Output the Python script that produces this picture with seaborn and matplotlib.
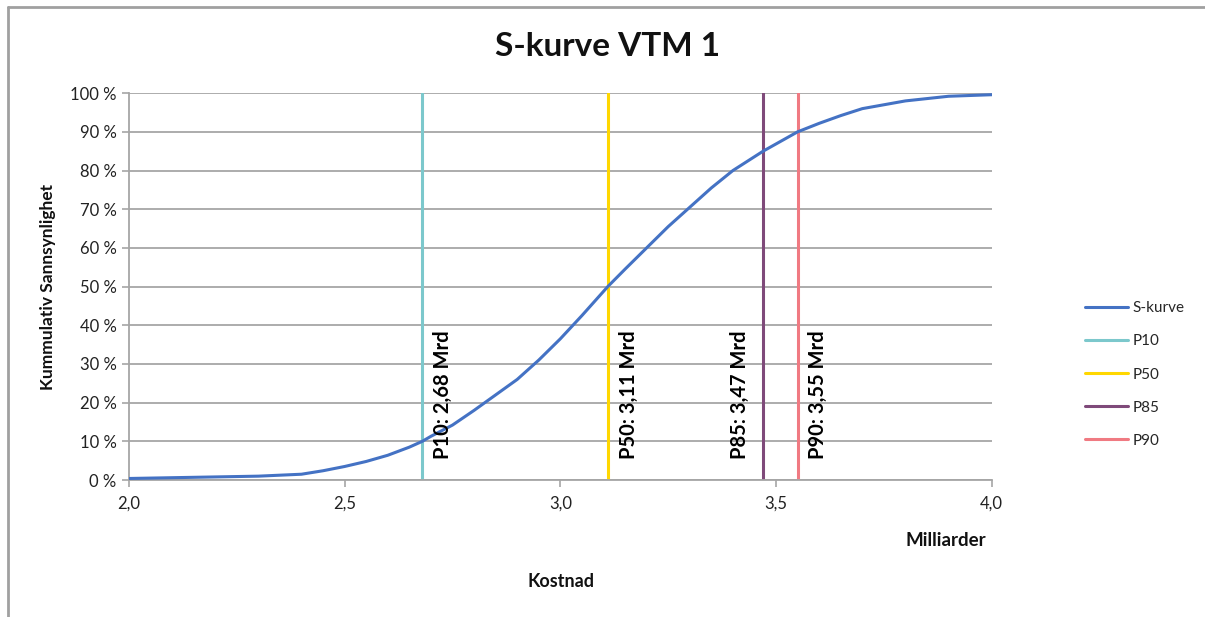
import matplotlib
matplotlib.use("Agg")
import matplotlib.pyplot as plt
from matplotlib.lines import Line2D
from matplotlib.ticker import FixedLocator, FuncFormatter
import seaborn as sns
import pandas as pd

# Cumulative probability curve (cost in billions NOK, probability in %)
kostnad = [2.0, 2.1, 2.2, 2.3, 2.4, 2.45, 2.5, 2.55, 2.6, 2.65, 2.68, 2.7, 2.75,
           2.8, 2.85, 2.9, 2.95, 3.0, 3.05, 3.11, 3.15, 3.2, 3.25, 3.3, 3.35,
           3.4, 3.47, 3.55, 3.6, 3.65, 3.7, 3.8, 3.9, 4.0]
sannsynlighet = [0.4, 0.6, 0.8, 1.0, 1.5, 2.4, 3.5, 4.8, 6.4, 8.5, 10.0, 11.3, 14.2,
                 18.0, 22.0, 26.0, 31.0, 36.5, 42.5, 50.0, 54.5, 60.0, 65.5, 70.5, 75.5,
                 80.0, 85.0, 90.0, 92.2, 94.2, 96.0, 98.0, 99.2, 99.6]

# Percentile markers
p_names = ["P10", "P50", "P85", "P90"]
p_values = [2.68, 3.11, 3.47, 3.55]
p_colors = ["#7cc8cc", "#ffd700", "#7f4a7a", "#f07a82"]
p_label_side = ["right", "right", "left", "right"]

curve_color = "#4472c4"
grid_color = "#a6a6a6"

sns.set_theme(style="white")
plt.rcParams["font.family"] = ["Lato", "DejaVu Sans"]

fig = plt.figure(figsize=(12.05, 6.17), dpi=100)
ax = fig.add_axes([0.107, 0.222, 0.716, 0.627])

df = pd.DataFrame({"Kostnad": kostnad, "Sannsynlighet": sannsynlighet})
sns.lineplot(data=df, x="Kostnad", y="Sannsynlighet", ax=ax, color=curve_color,
             linewidth=2.2, zorder=3)

for name, val, col, side in zip(p_names, p_values, p_colors, p_label_side):
    ax.plot([val, val], [0, 100], color=col, linewidth=2.2, zorder=2)
    label = f"{name}: {val:.2f} Mrd".replace(".", ",")
    offs = 0.048 if side == "right" else -0.054
    ax.text(val + offs, 5.5, label, rotation=90, ha="center", va="bottom",
            fontsize=14.5, fontweight="bold", color="#000000", zorder=4)

ax.set_xlim(2.0, 4.0)
ax.set_ylim(0, 100)
ax.yaxis.set_major_locator(FixedLocator(range(0, 101, 10)))
ax.xaxis.set_major_locator(FixedLocator([2.0, 2.5, 3.0, 3.5, 4.0]))
ax.yaxis.set_major_formatter(FuncFormatter(lambda v, p: f"{int(round(v))} %"))
ax.xaxis.set_major_formatter(FuncFormatter(lambda v, p: f"{v:.1f}".replace(".", ",")))
ax.grid(axis="y", color=grid_color, linewidth=1.3)
ax.grid(axis="x", visible=False)
ax.set_axisbelow(True)

for s in ["top", "right"]:
    ax.spines[s].set_visible(False)
for s in ["left", "bottom"]:
    ax.spines[s].set_color(grid_color)
    ax.spines[s].set_linewidth(1.3)

ax.tick_params(axis="both", which="major", length=5, width=1.2, color=grid_color,
               labelsize=12, labelcolor="#222222", direction="out")
ax.tick_params(axis="x", bottom=True, pad=6)
ax.tick_params(axis="y", left=True, pad=4)

ax.set_xlabel("")
ax.set_ylabel("Kummulativ Sannsynlighet", fontsize=12.5, fontweight="bold",
              color="#111111", labelpad=10)

fig.text(0.504, 0.925, "S-kurve VTM 1", ha="center", va="center",
         fontsize=24, fontweight="bold", color="#111111")
fig.text(0.818, 0.124, "Milliarder", ha="right", va="center", fontsize=13.5,
         fontweight="bold", color="#111111")
fig.text(0.4655, 0.058, "Kostnad", ha="center", va="center", fontsize=13,
         fontweight="bold", color="#111111")

handles = [Line2D([], [], color=curve_color, linewidth=2.2)]
handles += [Line2D([], [], color=c, linewidth=2.2) for c in p_colors]
labels = ["S-kurve"] + p_names
fig.legend(handles, labels, loc="center left", bbox_to_anchor=(0.889, 0.393),
           frameon=False, fontsize=11, handlelength=2.8, handletextpad=0.3,
           labelspacing=1.25)

# Outer chart frame (top and left edges)
fig.add_artist(Line2D([0.0066, 1.0], [0.989, 0.989], transform=fig.transFigure,
                      color="#a0a0a0", linewidth=2))
fig.add_artist(Line2D([0.0066, 0.0066], [0.0, 0.989], transform=fig.transFigure,
                      color="#a0a0a0", linewidth=2))

fig.savefig("out.png", dpi=100, facecolor="white")
